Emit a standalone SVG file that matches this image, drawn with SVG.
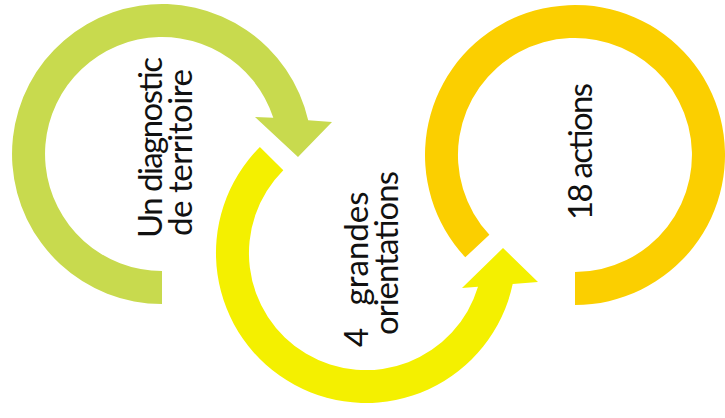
<svg xmlns="http://www.w3.org/2000/svg" width="725" height="418" viewBox="0 0 725 418">
<style>
.lbl{font-family:Lato,"Open Sans","Liberation Sans",sans-serif;font-size:33px;fill:#111}
.green{fill:#c8da4e}
.yellow{fill:#f4f000}
.gold{fill:#fbcf00}
</style>
<rect width="725" height="418" fill="#ffffff"/>
<g id="node-diagnostic">
<path class="green" d="M162 304 A150 150 0 1 1 308.2 120.3 L332 122 L298 157 L255 117 L273.3 117.8 A117 117 0 1 0 162 271 Z"/>
<text class="lbl" transform="translate(162,238) rotate(-90)" textLength="181">Un diagnostic</text>
<text class="lbl" transform="translate(192,236) rotate(-90)" textLength="167">de territoire</text>
</g>
<g id="node-orientations">
<path class="yellow" d="M259.9 146.9 A150 150 0 1 0 512.7 284.1 L538 282 L503 248 L462 288 L478 286.8 A117 117 0 1 1 283.3 170.3 Z"/>
<text class="lbl" transform="translate(368,347) rotate(-90)">4 <tspan dx="14">grandes</tspan></text>
<text class="lbl" transform="translate(398,335) rotate(-90)" textLength="164">orientations</text>
</g>
<g id="node-actions">
<path class="gold" d="M465.3 257.3 A150 150 0 1 1 575 305 L575 272 A117 117 0 1 0 489.4 234.8 Z"/>
<text class="lbl" transform="translate(592,220) rotate(-90)" textLength="137">18 actions</text>
</g>
</svg>
